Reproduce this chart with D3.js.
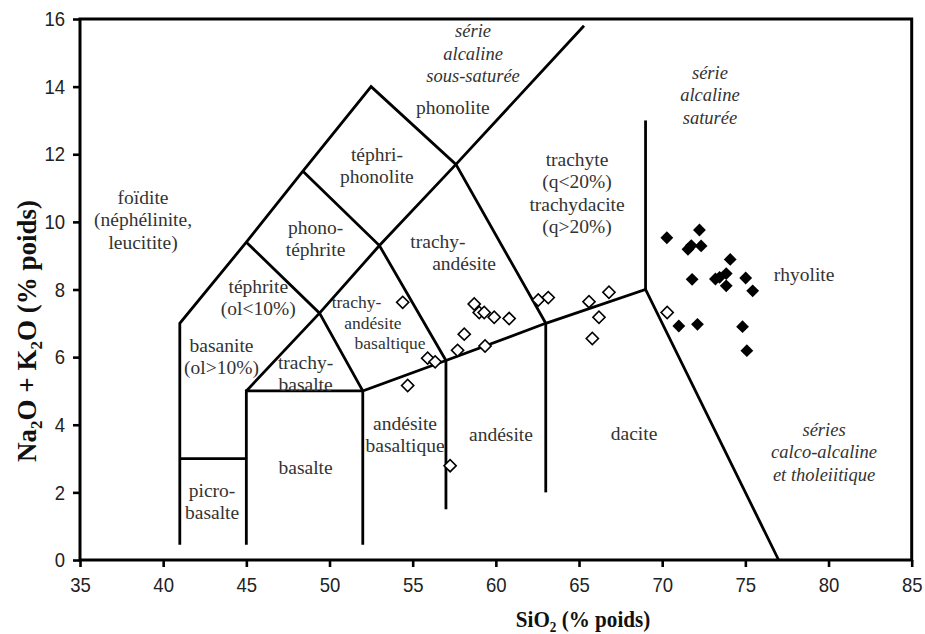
<!DOCTYPE html>
<html><head><meta charset="utf-8">
<script src="https://cdn.jsdelivr.net/npm/d3@7"></script>
<style>
html,body{margin:0;padding:0;background:#fff;}
svg{display:block;}
</style></head>
<body>
<svg id="c" width="925" height="634"></svg>
<script>
// ---------- data ----------
const xTicks = [35,40,45,50,55,60,65,70,75,80,85];
const yTicks = [0,2,4,6,8,10,12,14,16];

// TAS field boundaries [SiO2, Na2O+K2O]
const boundaries = [
  [[41,0.45],[41,7],[45,9.4],[48.4,11.5],[52.5,14],[57.6,11.7],[63,7]],
  [[41,3],[45,3]],
  [[45,0.45],[45,5],[52,5]],
  [[52,0.45],[52,5],[57,5.9],[63,7],[69,8],[77,0]],
  [[57,1.5],[57,5.9]],
  [[63,2],[63,7]],
  [[69,8],[69,13]],
  [[45,5],[49.4,7.3],[53,9.3],[57.6,11.7],[65.3,15.8]],
  [[45,9.4],[49.4,7.3],[52,5]],
  [[48.4,11.5],[53,9.3],[57,5.9]]
];

// open diamonds
const openSiO2 = [54.4,58.7,59.0,59.3,59.9,60.8,58.1,57.7,59.35,55.9,56.35,54.7,57.25,62.55,63.15,65.6,66.8,66.2,65.8,70.3];
const openAlk  = [7.62,7.57,7.32,7.32,7.18,7.14,6.68,6.2,6.33,5.97,5.86,5.16,2.79,7.69,7.76,7.64,7.92,7.18,6.55,7.32];

// filled diamonds
const fillSiO2 = [70.28,72.24,71.55,71.75,72.34,74.09,71.8,73.2,73.45,73.85,73.85,75.02,75.44,71.0,72.12,74.83,75.09];
const fillAlk  = [9.53,9.76,9.19,9.3,9.29,8.89,8.3,8.31,8.36,8.47,8.11,8.34,7.96,6.92,6.97,6.9,6.19];

// region names (first line anchored at SiO2 / alkali)
const regionLabels = [
  {lines:["foïdite","(néphélinite,","leucitite)"], x:38.79, y:10.74},
  {lines:["téphrite","(ol<10%)"], x:45.72, y:8.10},
  {lines:["phono-","téphrite"], x:49.16, y:9.85},
  {lines:["téphri-","phonolite"], x:52.85, y:12.01},
  {lines:["phonolite"], x:57.42, y:13.40},
  {lines:["trachy-"], x:56.52, y:9.44},
  {lines:["andésite"], x:58.09, y:8.78},
  {lines:["trachyte","(q<20%)","trachydacite","(q>20%)"], x:64.88, y:11.86},
  {lines:["rhyolite"], x:78.53, y:8.46},
  {lines:["basanite","(ol>10%)"], x:43.51, y:6.36},
  {lines:["trachy-","basalte"], x:48.56, y:5.86},
  {lines:["picro-","basalte"], x:42.94, y:2.07},
  {lines:["basalte"], x:48.56, y:2.75},
  {lines:["andésite","basaltique"], x:54.54, y:4.05},
  {lines:["andésite"], x:60.31, y:3.73},
  {lines:["dacite"], x:68.31, y:3.76}
];
const smallLabels = [
  {text:"trachy-", x:51.62, y:7.63},
  {text:"andésite", x:52.61, y:7.01},
  {text:"basaltique", x:53.64, y:6.42}
];
const seriesLabels = [
  {lines:["série","alcaline","sous-saturée"], x:58.63, y:15.65},
  {lines:["série","alcaline","saturée"], x:72.87, y:14.43},
  {lines:["séries","calco-alcaline","et tholeiitique"], x:79.73, y:3.87}
];

// ---------- drawing ----------
const svg = d3.select("#c");
const L = 80, R = 911.7, T = 19, B = 560;
const x = d3.scaleLinear().domain([35,85]).range([L,R]);
const y = d3.scaleLinear().domain([0,16]).range([B,T]);

const serif = "'Liberation Serif','Times New Roman',serif";
const sans = "'Liberation Sans',Arial,sans-serif";

// boundaries
const line = d3.line().x(d=>x(d[0])).y(d=>y(d[1]));
svg.append("g").selectAll("path").data(boundaries).join("path")
  .attr("d", line).attr("fill","none").attr("stroke","#000")
  .attr("stroke-width",2.8).attr("stroke-linejoin","miter");

// axes
const xAxis = svg.append("g").attr("transform",`translate(0,${B})`)
  .call(d3.axisBottom(x).tickValues(xTicks).tickSize(7).tickPadding(10).tickFormat(d3.format("d")));
const yAxis = svg.append("g").attr("transform",`translate(${L},0)`)
  .call(d3.axisLeft(y).tickValues(yTicks).tickSize(7).tickPadding(8).tickFormat(d3.format("d")));
[xAxis,yAxis].forEach(g=>{
  g.select(".domain").remove();
  g.selectAll(".tick line").attr("stroke","#000").attr("stroke-width",2.6);
  g.selectAll(".tick text").attr("fill","#222").style("font-family",sans).style("font-size","21px")
    .attr("textLength",function(){return this.textContent.length*10.3;})
    .attr("lengthAdjust","spacingAndGlyphs");
});

// frame
svg.append("rect").attr("x",L).attr("y",T).attr("width",R-L).attr("height",B-T)
  .attr("fill","none").attr("stroke","#000").attr("stroke-width",3);

// region labels
const LH = 22.5;
function drawLabels(data, size, italic, lh){
  const g = svg.append("g");
  data.forEach(d=>{
    const t = g.append("text").attr("text-anchor","middle")
      .attr("font-family",serif).attr("font-size",size).attr("fill","#333")
      .attr("font-style", italic ? "italic" : "normal");
    d.lines.forEach((s,i)=>{
      t.append("tspan").attr("x",x(d.x)).attr("y",y(d.y)+i*lh).attr("dy","0.35em").text(s);
    });
  });
}
drawLabels(regionLabels, 19.5, false, LH);
drawLabels(smallLabels.map(d=>({lines:[d.text],x:d.x,y:d.y})), 17.5, false, 20);
drawLabels(seriesLabels, 18.5, true, LH);

// points
const sym = d3.symbol().type(d3.symbolSquare).size(74);
const openPts = openSiO2.map((v,i)=>[v,openAlk[i]]);
const fillPts = fillSiO2.map((v,i)=>[v,fillAlk[i]]);
svg.append("g").selectAll("path").data(openPts).join("path")
  .attr("d",sym).attr("transform",d=>`translate(${x(d[0])},${y(d[1])}) rotate(45)`)
  .attr("fill","#fff").attr("stroke","#000").attr("stroke-width",1.6);
svg.append("g").selectAll("path").data(fillPts).join("path")
  .attr("d",d3.symbol().type(d3.symbolSquare).size(82))
  .attr("transform",d=>`translate(${x(d[0])},${y(d[1])}) rotate(45)`)
  .attr("fill","#000");

// axis titles
const xt = svg.append("text").attr("transform",`translate(583,627) scale(0.88,1)`)
  .attr("text-anchor","middle").attr("font-family",serif).attr("font-weight","bold")
  .attr("font-size",24).attr("fill","#111");
xt.append("tspan").text("SiO");
xt.append("tspan").attr("font-size",15).attr("dy",5).text("2");
xt.append("tspan").attr("dy",-5).text(" (% poids)");

const yt = svg.append("text").attr("transform",`translate(36,331) rotate(-90)`)
  .attr("text-anchor","middle").attr("font-family",serif).attr("font-weight","bold")
  .attr("font-size",27).attr("fill","#111");
yt.append("tspan").text("Na");
yt.append("tspan").attr("font-size",17).attr("dy",6).text("2");
yt.append("tspan").attr("dy",-6).text("O + K");
yt.append("tspan").attr("font-size",17).attr("dy",6).text("2");
yt.append("tspan").attr("dy",-6).text("O (% poids)");
</script>
</body></html>
